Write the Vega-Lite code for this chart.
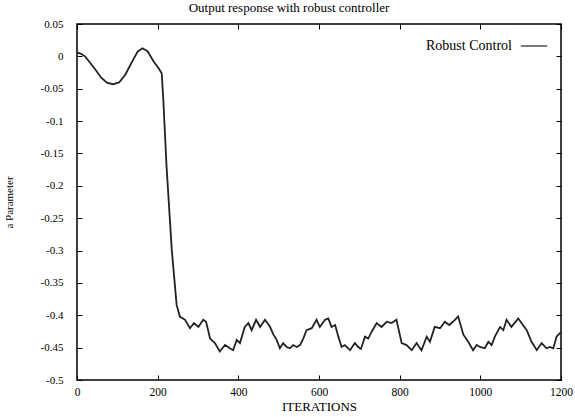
{
  "$schema": "https://vega.github.io/schema/vega-lite/v6.json",
  "width": 484,
  "height": 356,
  "autosize": {"type": "none"},
  "padding": {"left": 77, "top": 24, "right": 14, "bottom": 37},
  "background": "white",
  "title": {"text": "Output response with robust controller", "font": "Liberation Serif", "fontSize": 13, "fontWeight": "normal", "color": "black", "offset": 3, "anchor": "middle", "dx": -30},
  "config": {
    "view": {"stroke": "black", "strokeWidth": 1.5},
    "axis": {"labelFont": "Liberation Serif", "titleFont": "Liberation Serif", "labelFontSize": 11, "titleFontSize": 11, "titleFontWeight": "normal", "labelColor": "black", "titleColor": "black", "tickColor": "black", "domain": false, "grid": false, "tickSize": -5, "tickWidth": 1}
  },
  "datasets": {
    "series": [
      {"it": 0, "a": 0.006, "s": "Robust Control"},
      {"it": 10, "a": 0.004, "s": "Robust Control"},
      {"it": 20, "a": 0.0, "s": "Robust Control"},
      {"it": 30, "a": -0.008, "s": "Robust Control"},
      {"it": 45, "a": -0.02, "s": "Robust Control"},
      {"it": 60, "a": -0.033, "s": "Robust Control"},
      {"it": 75, "a": -0.041, "s": "Robust Control"},
      {"it": 90, "a": -0.043, "s": "Robust Control"},
      {"it": 105, "a": -0.04, "s": "Robust Control"},
      {"it": 120, "a": -0.028, "s": "Robust Control"},
      {"it": 135, "a": -0.01, "s": "Robust Control"},
      {"it": 150, "a": 0.007, "s": "Robust Control"},
      {"it": 162, "a": 0.0125, "s": "Robust Control"},
      {"it": 175, "a": 0.008, "s": "Robust Control"},
      {"it": 190, "a": -0.008, "s": "Robust Control"},
      {"it": 202, "a": -0.018, "s": "Robust Control"},
      {"it": 210, "a": -0.026, "s": "Robust Control"},
      {"it": 214, "a": -0.067, "s": "Robust Control"},
      {"it": 222, "a": -0.17, "s": "Robust Control"},
      {"it": 235, "a": -0.299, "s": "Robust Control"},
      {"it": 247, "a": -0.384, "s": "Robust Control"},
      {"it": 255, "a": -0.402, "s": "Robust Control"},
      {"it": 268, "a": -0.407, "s": "Robust Control"},
      {"it": 280, "a": -0.42, "s": "Robust Control"},
      {"it": 290, "a": -0.412, "s": "Robust Control"},
      {"it": 301, "a": -0.418, "s": "Robust Control"},
      {"it": 313, "a": -0.407, "s": "Robust Control"},
      {"it": 320, "a": -0.41, "s": "Robust Control"},
      {"it": 330, "a": -0.436, "s": "Robust Control"},
      {"it": 342, "a": -0.443, "s": "Robust Control"},
      {"it": 354, "a": -0.456, "s": "Robust Control"},
      {"it": 367, "a": -0.446, "s": "Robust Control"},
      {"it": 379, "a": -0.451, "s": "Robust Control"},
      {"it": 387, "a": -0.454, "s": "Robust Control"},
      {"it": 396, "a": -0.438, "s": "Robust Control"},
      {"it": 404, "a": -0.443, "s": "Robust Control"},
      {"it": 416, "a": -0.418, "s": "Robust Control"},
      {"it": 425, "a": -0.412, "s": "Robust Control"},
      {"it": 433, "a": -0.423, "s": "Robust Control"},
      {"it": 444, "a": -0.407, "s": "Robust Control"},
      {"it": 454, "a": -0.418, "s": "Robust Control"},
      {"it": 466, "a": -0.407, "s": "Robust Control"},
      {"it": 478, "a": -0.417, "s": "Robust Control"},
      {"it": 487, "a": -0.43, "s": "Robust Control"},
      {"it": 495, "a": -0.438, "s": "Robust Control"},
      {"it": 503, "a": -0.451, "s": "Robust Control"},
      {"it": 511, "a": -0.443, "s": "Robust Control"},
      {"it": 520, "a": -0.449, "s": "Robust Control"},
      {"it": 528, "a": -0.451, "s": "Robust Control"},
      {"it": 536, "a": -0.446, "s": "Robust Control"},
      {"it": 545, "a": -0.449, "s": "Robust Control"},
      {"it": 553, "a": -0.446, "s": "Robust Control"},
      {"it": 561, "a": -0.436, "s": "Robust Control"},
      {"it": 569, "a": -0.423, "s": "Robust Control"},
      {"it": 582, "a": -0.42, "s": "Robust Control"},
      {"it": 594, "a": -0.407, "s": "Robust Control"},
      {"it": 602, "a": -0.418, "s": "Robust Control"},
      {"it": 615, "a": -0.407, "s": "Robust Control"},
      {"it": 623, "a": -0.405, "s": "Robust Control"},
      {"it": 631, "a": -0.418, "s": "Robust Control"},
      {"it": 640, "a": -0.415, "s": "Robust Control"},
      {"it": 648, "a": -0.433, "s": "Robust Control"},
      {"it": 656, "a": -0.449, "s": "Robust Control"},
      {"it": 664, "a": -0.446, "s": "Robust Control"},
      {"it": 677, "a": -0.454, "s": "Robust Control"},
      {"it": 689, "a": -0.443, "s": "Robust Control"},
      {"it": 697, "a": -0.449, "s": "Robust Control"},
      {"it": 704, "a": -0.452, "s": "Robust Control"},
      {"it": 714, "a": -0.433, "s": "Robust Control"},
      {"it": 722, "a": -0.436, "s": "Robust Control"},
      {"it": 731, "a": -0.425, "s": "Robust Control"},
      {"it": 743, "a": -0.412, "s": "Robust Control"},
      {"it": 755, "a": -0.418, "s": "Robust Control"},
      {"it": 768, "a": -0.41, "s": "Robust Control"},
      {"it": 780, "a": -0.412, "s": "Robust Control"},
      {"it": 792, "a": -0.407, "s": "Robust Control"},
      {"it": 805, "a": -0.443, "s": "Robust Control"},
      {"it": 817, "a": -0.446, "s": "Robust Control"},
      {"it": 830, "a": -0.454, "s": "Robust Control"},
      {"it": 842, "a": -0.443, "s": "Robust Control"},
      {"it": 854, "a": -0.454, "s": "Robust Control"},
      {"it": 867, "a": -0.433, "s": "Robust Control"},
      {"it": 875, "a": -0.441, "s": "Robust Control"},
      {"it": 887, "a": -0.418, "s": "Robust Control"},
      {"it": 900, "a": -0.42, "s": "Robust Control"},
      {"it": 912, "a": -0.41, "s": "Robust Control"},
      {"it": 923, "a": -0.415, "s": "Robust Control"},
      {"it": 937, "a": -0.407, "s": "Robust Control"},
      {"it": 945, "a": -0.402, "s": "Robust Control"},
      {"it": 958, "a": -0.43, "s": "Robust Control"},
      {"it": 970, "a": -0.441, "s": "Robust Control"},
      {"it": 982, "a": -0.454, "s": "Robust Control"},
      {"it": 991, "a": -0.446, "s": "Robust Control"},
      {"it": 999, "a": -0.449, "s": "Robust Control"},
      {"it": 1011, "a": -0.451, "s": "Robust Control"},
      {"it": 1020, "a": -0.441, "s": "Robust Control"},
      {"it": 1028, "a": -0.446, "s": "Robust Control"},
      {"it": 1036, "a": -0.433, "s": "Robust Control"},
      {"it": 1049, "a": -0.418, "s": "Robust Control"},
      {"it": 1057, "a": -0.423, "s": "Robust Control"},
      {"it": 1065, "a": -0.407, "s": "Robust Control"},
      {"it": 1077, "a": -0.418, "s": "Robust Control"},
      {"it": 1094, "a": -0.405, "s": "Robust Control"},
      {"it": 1102, "a": -0.412, "s": "Robust Control"},
      {"it": 1115, "a": -0.423, "s": "Robust Control"},
      {"it": 1127, "a": -0.441, "s": "Robust Control"},
      {"it": 1140, "a": -0.454, "s": "Robust Control"},
      {"it": 1152, "a": -0.443, "s": "Robust Control"},
      {"it": 1164, "a": -0.451, "s": "Robust Control"},
      {"it": 1172, "a": -0.449, "s": "Robust Control"},
      {"it": 1181, "a": -0.451, "s": "Robust Control"},
      {"it": 1189, "a": -0.433, "s": "Robust Control"},
      {"it": 1200, "a": -0.426, "s": "Robust Control"}
    ]
  },
  "layer": [
    {
      "data": {"name": "series"},
      "mark": {"type": "line", "strokeWidth": 1.8, "interpolate": "linear"},
      "encoding": {
        "x": {"field": "it", "type": "quantitative", "scale": {"domain": [0, 1200], "nice": false, "zero": false},
              "axis": {"orient": "bottom", "title": "ITERATIONS", "titleFontSize": 13, "labelFontSize": 11.5, "format": "d", "values": [0, 200, 400, 600, 800, 1000, 1200], "labelPadding": 11, "titlePadding": 3, "labelFlush": false}},
        "y": {"field": "a", "type": "quantitative", "scale": {"domain": [-0.5, 0.05], "nice": false, "zero": false},
              "axis": {"orient": "left", "title": "a Parameter", "values": [0.05, 0, -0.05, -0.1, -0.15, -0.2, -0.25, -0.3, -0.35, -0.4, -0.45, -0.5], "labelPadding": 19, "titlePadding": 26, "labelFlush": false,
                       "labelExpr": "replace(format(datum.value, '.2~f'), '\u2212', '-')"}},
        "color": {"field": "s", "type": "nominal", "scale": {"range": ["#222222"]},
                  "legend": {"title": null, "orient": "none", "legendX": 443, "legendY": 8, "symbolType": "stroke", "symbolSize": 700, "symbolStrokeWidth": 1.2, "labelAlign": "right", "labelOffset": -36, "labelFont": "Liberation Serif", "labelFontSize": 14, "labelColor": "black"}}
      }
    },
    {
      "mark": {"type": "rule", "stroke": "#999999", "strokeDash": [1, 2], "strokeWidth": 1},
      "encoding": {"y": {"datum": 0, "type": "quantitative", "axis": null}}
    },
    {
      "data": {"name": "series"},
      "mark": {"type": "line", "opacity": 0},
      "encoding": {
        "x": {"field": "it", "type": "quantitative", "scale": {"domain": [0, 1200], "nice": false, "zero": false},
              "axis": {"orient": "top", "title": null, "labels": false, "values": [0, 200, 400, 600, 800, 1000, 1200]}},
        "y": {"field": "a", "type": "quantitative", "scale": {"domain": [-0.5, 0.05], "nice": false, "zero": false},
              "axis": {"orient": "right", "title": null, "labels": false, "values": [0.05, 0, -0.05, -0.1, -0.15, -0.2, -0.25, -0.3, -0.35, -0.4, -0.45, -0.5]}}
      }
    }
  ],
  "resolve": {"axis": {"x": "independent", "y": "independent"}}
}
